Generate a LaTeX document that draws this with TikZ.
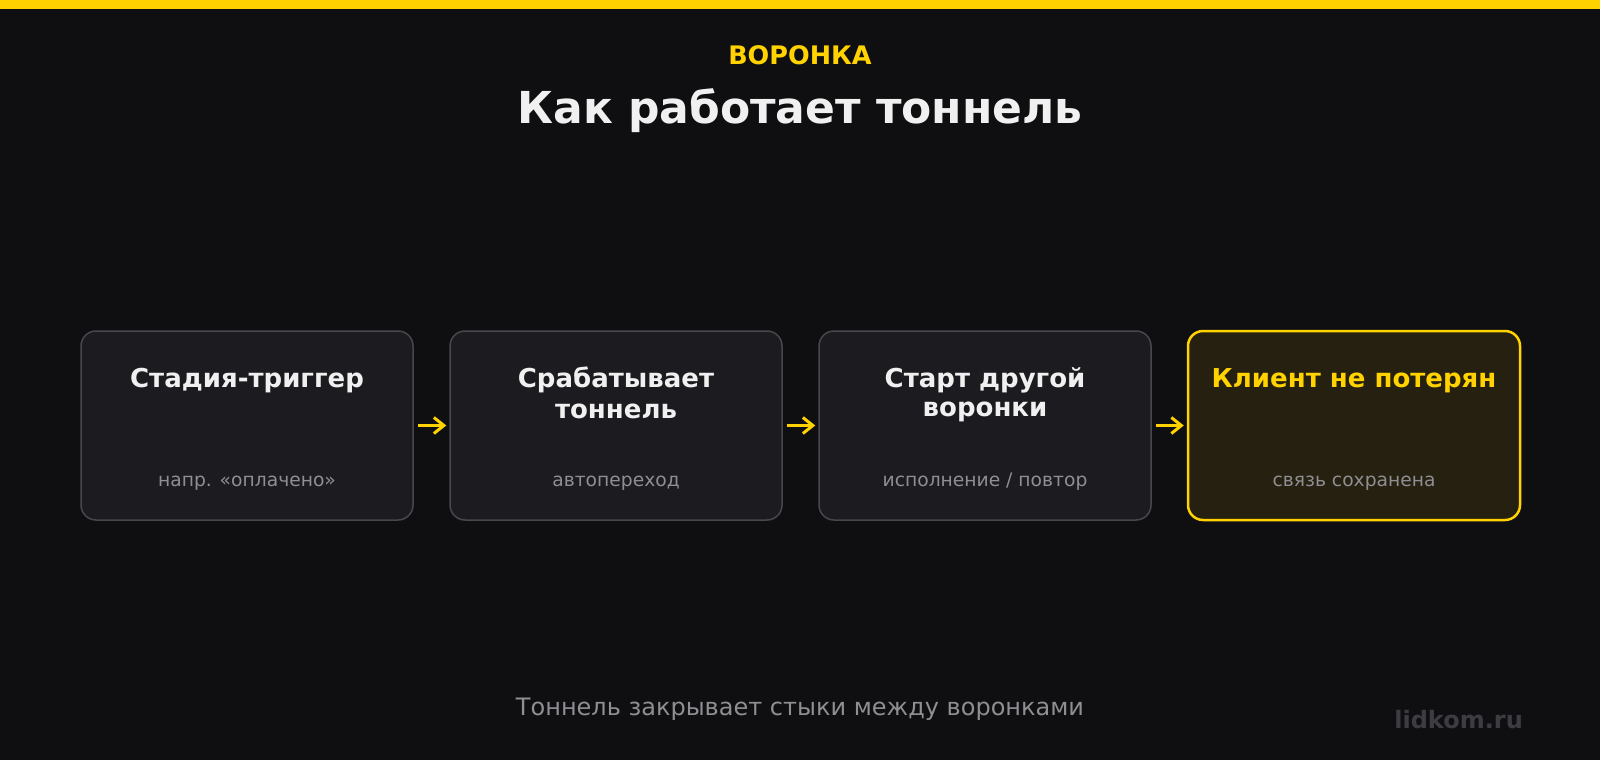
\documentclass[tikz,border=0pt]{standalone}
\usepackage{fontspec}
\setmainfont{DejaVu Sans}
\usetikzlibrary{arrows.meta}
\definecolor{bg}{HTML}{0F0F11}
\definecolor{acc}{HTML}{FFD200}
\definecolor{boxfill}{HTML}{1C1B20}
\definecolor{boxline}{HTML}{48474D}
\definecolor{hifill}{HTML}{262010}
\definecolor{txtw}{HTML}{F0F0F0}
\definecolor{txtg}{HTML}{8E8E93}
\definecolor{wm}{HTML}{3D3C42}
\tikzset{
  card/.style={draw=boxline, line width=1.5pt, fill=boxfill, rounded corners=15pt,
    minimum width=332pt, minimum height=189pt, inner sep=0pt},
  hicard/.style={card, draw=acc, line width=2.5pt, fill=hifill},
  ctitle/.style={anchor=base, inner sep=0pt, text=txtw, font=\fontsize{26}{30}\selectfont\bfseries},
  csub/.style={anchor=base, inner sep=0pt, text=txtg, font=\fontsize{18.7}{22}\selectfont},
  arr/.style={draw=acc, line width=3pt, -{Straight Barb[length=10pt,width=16pt]}, shorten <=4pt, shorten >=3pt}
}
\begin{document}
\begin{tikzpicture}[x=1pt,y=-1pt]
\fill[bg] (0,0) rectangle (1600,760);
\useasboundingbox (0,0) rectangle (1600,760);
\fill[acc] (0,0) rectangle (1600,9);

\node[anchor=base, inner sep=0pt, text=acc, font=\fontsize{25.5}{30}\selectfont\bfseries] (kicker) at (800,65) {ВОРОНКА};
\node[anchor=base, inner sep=0pt, text=txtw, font=\fontsize{44}{52}\selectfont\bfseries] (title) at (800,123) {Как работает тоннель};

\node[card] (b1) at (247,425.5) {};
\node[card] (b2) at (616,425.5) {};
\node[card] (b3) at (985,425.5) {};
\node[hicard] (b4) at (1354,425.5) {};

\node[ctitle] (t1) at (247,387) {Стадия-триггер};
\node[csub] (s1) at (247,486) {напр. «оплачено»};

\node[ctitle] (t2a) at (616,387) {Срабатывает};
\node[ctitle] (t2b) at (616,418) {тоннель};
\node[csub] (s2) at (616,486) {автопереход};

\node[ctitle] (t3a) at (985,387) {Старт другой};
\node[ctitle] (t3b) at (985,416) {воронки};
\node[csub] (s3) at (985,486) {исполнение / повтор};

\node[ctitle, text=acc] (t4) at (1354,387) {Клиент не потерян};
\node[csub] (s4) at (1354,486) {связь сохранена};

\draw[arr] (b1) -- (b2);
\draw[arr] (b2) -- (b3);
\draw[arr] (b3) -- (b4);

\node[anchor=base, inner sep=0pt, text=txtg, font=\fontsize{24}{28}\selectfont] (foot) at (800,715) {Тоннель закрывает стыки между воронками};
\node[anchor=base east, inner sep=0pt, text=wm, font=\fontsize{24}{28}\selectfont\bfseries] (mark) at (1523,728) {lidkom.ru};
\end{tikzpicture}
\end{document}
